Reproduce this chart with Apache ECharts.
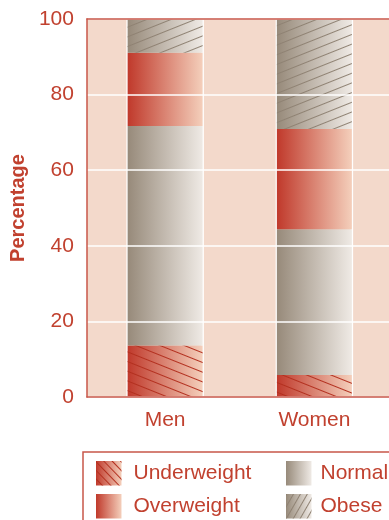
<!DOCTYPE html>
<html>
<head>
<meta charset="utf-8">
<script src="https://cdn.jsdelivr.net/npm/echarts@6/dist/echarts.min.js"></script>
<style>
  html, body { margin: 0; padding: 0; background: #ffffff; }
  #chart { width: 389px; height: 520px; }
</style>
</head>
<body>
<div id="chart"></div>
<script>
// Body-weight distribution by sex (percent of each group)
const categories = ['Men', 'Women'];
const underweight = [13.6, 5.8];
const normal = [58.1, 38.6];
const overweight = [19.4, 26.5];
const obese = [8.9, 29.1];
const seriesNames = ['Underweight', 'Normal', 'Overweight', 'Obese'];
const yMin = 0, yMax = 100, yStep = 20;

const RED_TEXT = '#c1412f';
const FRAME = '#c8574a';
const FONT = '"Liberation Sans", Arial, sans-serif';

function hGrad(from, to) {
  return new echarts.graphic.LinearGradient(0, 0, 1, 0, [
    { offset: 0, color: from },
    { offset: 1, color: to }
  ]);
}
const redFill = () => hGrad('#c0392b', '#f4cfbb');
const greyFill = () => hGrad('#978a7a', '#efeae5');

function stripes(angle, color, width, gap) {
  return {
    symbol: 'rect', symbolSize: 1,
    dashArrayX: [1, 0], dashArrayY: [width, gap],
    rotation: angle, color: color
  };
}
const underDecal = stripes(0.38, '#b3301f', 1, 7.6);
const obeseDecal = stripes(-0.38, '#8f8273', 1, 7.6);

const chart = echarts.init(document.getElementById('chart'), null, { renderer: 'canvas' });

const barBase = {
  type: 'bar', stack: 'total', xAxisIndex: 2, yAxisIndex: 1,
  barWidth: 75, emphasis: { disabled: true }
};

chart.setOption({
  animation: false,
  textStyle: { fontFamily: FONT },
  grid: [
    { left: 83, top: 19, width: 330, height: 378, show: true,
      backgroundColor: '#f3d9cb', borderWidth: 0 },
    { left: 90.5, top: 19, width: 303.5, height: 378 }
  ],
  xAxis: [
    { gridIndex: 0, type: 'value', position: 'bottom', z: 6,
      axisLine: { show: true, lineStyle: { color: FRAME, width: 1.5 } },
      axisTick: { show: false }, axisLabel: { show: false }, splitLine: { show: false } },
    { gridIndex: 0, type: 'value', position: 'top', z: 6,
      axisLine: { show: true, lineStyle: { color: FRAME, width: 1.5 } },
      axisTick: { show: false }, axisLabel: { show: false }, splitLine: { show: false } },
    { gridIndex: 1, type: 'category', data: categories, position: 'bottom',
      axisLine: { show: false }, axisTick: { show: false },
      axisLabel: { color: RED_TEXT, fontSize: 21, margin: 13, fontFamily: FONT } }
  ],
  yAxis: [
    { gridIndex: 0, type: 'value', min: yMin, max: yMax, interval: yStep, z: 6,
      name: 'Percentage', nameLocation: 'middle', nameRotate: 90, nameGap: 58,
      nameTextStyle: { color: RED_TEXT, fontSize: 20, fontWeight: 'bold', fontFamily: FONT },
      axisLine: { show: true, lineStyle: { color: FRAME, width: 1.5 } },
      axisTick: { show: false },
      axisLabel: { color: RED_TEXT, fontSize: 21, margin: 13, fontFamily: FONT },
      splitLine: { show: true, lineStyle: { color: '#ffffff', width: 1.5 } } },
    { gridIndex: 1, type: 'value', min: yMin, max: yMax, show: false }
  ],
  legend: [
    { data: [
        { name: 'Underweight', itemStyle: { decal: stripes(0.8, '#b3301f', 1, 4.2) } },
        { name: 'Overweight' }
      ],
      icon: 'rect',
      orient: 'vertical', left: 83, top: 452, height: 60,
      padding: [9, 240, 12, 13], itemGap: 8.5, itemWidth: 25.5, itemHeight: 24.5,
      borderColor: FRAME, borderWidth: 1.5,
      textStyle: { color: RED_TEXT, fontSize: 21, fontFamily: FONT, padding: [0, 0, 0, 7] } },
    { data: [
        { name: 'Normal' },
        { name: 'Obese', itemStyle: { decal: stripes(-1.05, '#8f8273', 1, 4.2) } }
      ],
      icon: 'rect',
      orient: 'vertical', left: 286, top: 452, height: 60,
      padding: [9, 0, 0, 0], itemGap: 8.5, itemWidth: 25.5, itemHeight: 24.5,
      textStyle: { color: RED_TEXT, fontSize: 21, fontFamily: FONT, padding: [0, 0, 0, 4] } }
  ],
  series: [
    Object.assign({}, barBase, {
      name: seriesNames[0], data: underweight,
      showBackground: true,
      backgroundStyle: { color: 'rgba(255,255,255,0)', borderColor: '#ffffff', borderWidth: 2.5 },
      itemStyle: { color: redFill(), decal: underDecal }
    }),
    Object.assign({}, barBase, {
      name: seriesNames[1], data: normal,
      itemStyle: { color: greyFill() }
    }),
    Object.assign({}, barBase, {
      name: seriesNames[2], data: overweight,
      itemStyle: { color: redFill() }
    }),
    Object.assign({}, barBase, {
      name: seriesNames[3], data: obese,
      itemStyle: { color: greyFill(), decal: obeseDecal }
    })
  ]
});
</script>
</body>
</html>
